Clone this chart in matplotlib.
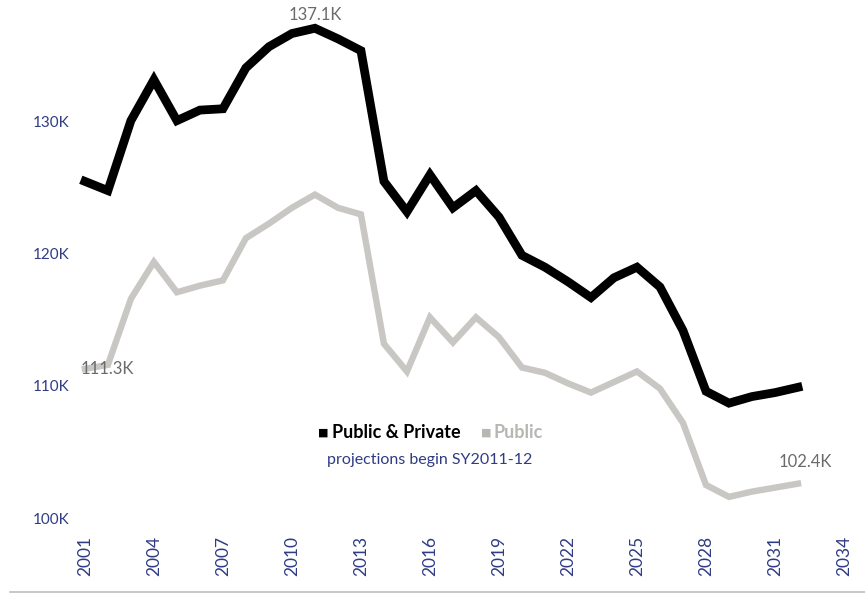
import matplotlib.pyplot as plt
from matplotlib.lines import Line2D

plt.rcParams['font.family'] = ['Lato', 'DejaVu Sans']

# School year (start) and enrolment, thousands
years = list(range(2001, 2033))
public_private = [125.5, 124.8, 130.1, 133.2, 130.1, 130.9, 131.0, 134.1, 135.7, 136.7,
                  137.1, 136.3, 135.4, 125.5, 123.2, 126.0, 123.5, 124.8, 122.8, 119.9,
                  119.0, 117.9, 116.7, 118.2, 119.0, 117.5, 114.2, 109.6, 108.7, 109.2,
                  109.5, 109.9]
public = [111.3, 111.6, 116.6, 119.4, 117.1, 117.6, 118.0, 121.2, 122.3, 123.5,
          124.5, 123.5, 123.0, 113.2, 111.1, 115.2, 113.3, 115.2, 113.7, 111.4,
          111.0, 110.2, 109.5, 110.3, 111.1, 109.8, 107.2, 102.5, 101.6, 102.0,
          102.3, 102.6]
y_ticks = [100, 110, 120, 130]
x_ticks = list(range(2001, 2035, 3))

tick_col = '#2f3c84'
gray = '#c9c7c3'
label_col = '#6b6b6b'

fig = plt.figure(figsize=(8.65, 5.95), dpi=100)
ax = fig.add_axes([75 / 865, 1 - 525 / 595, 775 / 865, 525 / 595])

ax.plot(years, public, color=gray, lw=4.6, solid_joinstyle='miter', zorder=2)
ax.plot(years, public_private, color='black', lw=6.3, solid_joinstyle='miter', zorder=3)

ax.set_xlim(2000.57, 2034.26)
ax.set_ylim(99.47, 139.24)
ax.set_yticks(y_ticks)
ax.set_yticklabels([f'{v}K' for v in y_ticks], color=tick_col, fontsize=11)
ax.set_xticks(x_ticks)
ax.set_xticklabels([str(y) for y in x_ticks], rotation=90, color=tick_col, fontsize=12.5)
ax.tick_params(axis='y', length=0, pad=4)
ax.tick_params(axis='x', length=0, pad=8)
for s in ax.spines.values():
    s.set_visible(False)

# data labels
peak = public_private.index(max(public_private))
ax.annotate(f'{public_private[peak]:.1f}K', (years[peak], public_private[peak]),
            xytext=(0, 4), textcoords='offset points', ha='center', va='bottom',
            color=label_col, fontsize=12)
ax.annotate(f'{public[0]:.1f}K', (years[0], public[0]), xytext=(-3, 0),
            textcoords='offset points', ha='left', va='center', color=label_col, fontsize=12)
ax.annotate('102.4K', (years[-1], public[-1]), xytext=(-14, 10),
            textcoords='offset points', ha='left', va='bottom', color=label_col, fontsize=12)

# legend text
ly = 1 - 432 / 595
fig.text(0.368, ly, '\u25a0', ha='left', va='center', fontsize=8, color='black')
fig.text(0.384, ly, 'Public & Private', ha='left', va='center',
         fontsize=13, fontweight='bold', color='black')
fig.text(0.556, ly, '\u25a0', ha='left', va='center', fontsize=8, color='#b8b6b3')
fig.text(0.571, ly, 'Public', ha='left', va='center',
         fontsize=13, fontweight='bold', color='#b8b6b3')
fig.text(0.497, 1 - 460 / 595, 'projections begin SY2011-12', ha='center', va='center',
         fontsize=11.5, color=tick_col)

fig.add_artist(Line2D([10 / 865, 1], [1 - 592 / 595] * 2, color='#bdbdbd', lw=1.2))

fig.savefig('out.png', dpi=100)
